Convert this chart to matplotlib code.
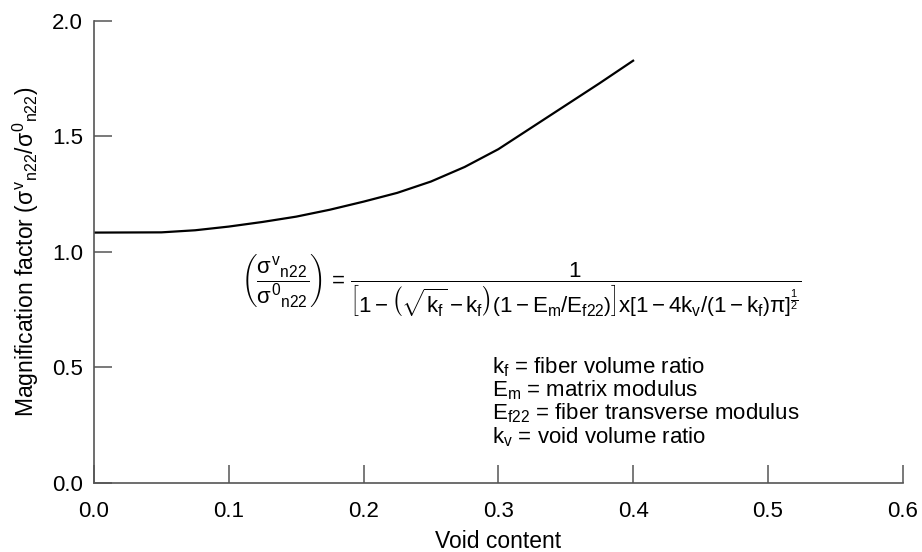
import matplotlib
matplotlib.use("Agg")
import matplotlib.pyplot as plt

plt.rcParams['font.family'] = ['Liberation Sans', 'DejaVu Sans']
plt.rcParams['mathtext.fontset'] = 'custom'
plt.rcParams['mathtext.rm'] = 'Liberation Sans'
plt.rcParams['mathtext.it'] = 'Liberation Sans'
plt.rcParams['mathtext.bf'] = 'Liberation Sans:bold'
plt.rcParams['mathtext.sf'] = 'Liberation Sans'

# curve
void_content = [0.0, 0.05, 0.075, 0.10, 0.125, 0.15, 0.175, 0.20, 0.225,
                0.25, 0.275, 0.30, 0.325, 0.35, 0.375, 0.40]
magnification = [1.084, 1.085, 1.094, 1.110, 1.130, 1.153, 1.183, 1.218, 1.256,
                 1.305, 1.368, 1.445, 1.54, 1.635, 1.73, 1.828]

x_ticks = [0.0, 0.1, 0.2, 0.3, 0.4, 0.5, 0.6]
y_ticks = [0.0, 0.5, 1.0, 1.5, 2.0]

legend_lines = [
    r'k$_{f}$ = fiber volume ratio',
    r'E$_{m}$ = matrix modulus',
    r'E$_{f22}$ = fiber transverse modulus',
    r'k$_{v}$ = void volume ratio',
]

equation = (r'$\left(\dfrac{\sigma^{v}{}_{n22}}{\sigma^{0}{}_{n22}}\right)$ = '
            r'$\dfrac{1}{\left[1-\left(\sqrt{k_f}-k_f\right)\left(1-E_m/E_{f22}\right)\right]'
            r'\mathrm{x}\left[1-4k_v/\left(1-k_f\right)\pi\right]^{\frac{1}{2}}}$')

fig = plt.figure(figsize=(9.22, 5.52), dpi=100)
ax = fig.add_axes([0.102, 0.125, 0.877, 0.837])

ax.plot(void_content, magnification, color='black', lw=1.6)

ax.set_xlim(0, 0.6)
ax.set_ylim(0, 2.0)
ax.set_xticks(x_ticks)
ax.set_yticks(y_ticks)
ax.set_xticklabels([f'{v:.1f}' for v in x_ticks])
ax.set_yticklabels([f'{v:.1f}' for v in y_ticks])

for s in ['top', 'right']:
    ax.spines[s].set_visible(False)
for s in ['left', 'bottom']:
    ax.spines[s].set_color('#555555')
    ax.spines[s].set_linewidth(1.2)

ax.tick_params(axis='both', direction='in', length=13, width=1.1, color='#555555',
               labelsize=16, labelcolor='black')
ax.tick_params(axis='x', pad=13)
ax.tick_params(axis='y', pad=8)

ax.set_xlabel('Void content', fontsize=16.5, labelpad=6)
ax.set_ylabel(r'Magnification factor ($\sigma^{v}{}_{n22}/\sigma^{0}{}_{n22}$)', fontsize=16.5, labelpad=8)

ax.text(0.109, 0.855, equation, fontsize=16, va='center', ha='left', color='black')

for i, line in enumerate(legend_lines):
    ax.text(0.295, 0.5 - i * 0.1, line, fontsize=16, va='center', ha='left', color='black')

fig.savefig('out.png', dpi=100, facecolor='white')
